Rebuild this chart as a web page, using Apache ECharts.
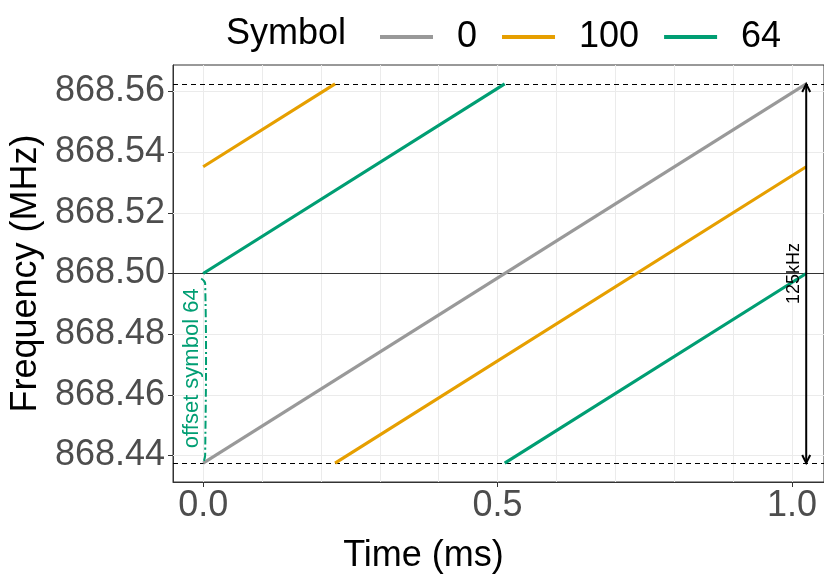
<!DOCTYPE html>
<html>
<head>
<meta charset="utf-8">
<script src="https://cdn.jsdelivr.net/npm/echarts@6/dist/echarts.min.js"></script>
<style>html,body{margin:0;padding:0;background:#fff;}#chart{width:824px;height:574px;}</style>
</head>
<body>
<div id="chart"></div>
<script>
// ---- data ----
const symbols = ['0', '100', '64'];
const time0 = [0, 1.024];
const freq0 = [868.4375, 868.5625];
const time100 = [0, 0.224, null, 0.224, 1.024];
const freq100 = [868.5352, 868.5625, null, 868.4375, 868.5352];
const time64 = [0, 0.512, null, 0.512, 1.024];
const freq64 = [868.5, 868.5625, null, 868.4375, 868.5];
const yTickLabels = [868.44, 868.46, 868.48, 868.50, 868.52, 868.54, 868.56];
const xTickLabels = [0, 0.5, 1.0];
const xGridValues = [0, 0.1, 0.2, 0.3, 0.4, 0.5, 0.6, 0.7, 0.8, 0.9, 1.0];
const bandEdges = [868.4375, 868.5625];
const centerFreq = 868.5;
const bwArrowTime = 1.024;
const bwLabel = '125kHz';
const offsetTime = 0;
const offsetRange = [868.4375, 868.5];
const offsetLabel = 'offset symbol 64';

// ---- styles ----
const COL = {'0': '#999999', '100': '#E69F00', '64': '#009E73'};
const FONT = '"Liberation Sans", Arial, Helvetica, sans-serif';

function pairs(t, f) {
  return t.map((v, i) => v === null ? ['-', '-'] : [v, f[i]]);
}
const seriesData = {'0': pairs(time0, freq0), '100': pairs(time100, freq100), '64': pairs(time64, freq64)};

const chart = echarts.init(document.getElementById('chart'), null, {renderer: 'canvas'});

const lineSeries = symbols.map(s => ({
  name: s, type: 'line', data: seriesData[s], showSymbol: false, symbol: 'none',
  connectNulls: false, z: 5,
  lineStyle: {color: COL[s], width: 3.2}, itemStyle: {color: COL[s]},
  emphasis: {disabled: true}, animation: false
}));

const gridSeries = {
  name: 'grid', type: 'line', data: [], z: 1, silent: true, animation: false,
  markLine: {
    silent: true, symbol: 'none', animation: false, label: {show: false}, precision: 6,
    lineStyle: {color: '#EBEBEB', width: 1, type: 'solid'},
    emphasis: {disabled: true},
    data: xGridValues.map(v => ({xAxis: v})).concat(yTickLabels.map(v => ({yAxis: v})))
  }
};

const refSeries = {
  name: 'ref', type: 'line', data: [], z: 3, silent: true, animation: false,
  markLine: {
    silent: true, symbol: 'none', animation: false, label: {show: false}, precision: 6,
    emphasis: {disabled: true},
    data: [
      {yAxis: bandEdges[0], lineStyle: {color: '#000', width: 1.2, type: [5, 4]}},
      {yAxis: bandEdges[1], lineStyle: {color: '#000', width: 1.2, type: [5, 4]}},
      {yAxis: centerFreq, lineStyle: {color: '#333', width: 1.2, type: 'solid'}}
    ]
  }
};

const annoSeries = {
  name: 'anno', type: 'custom', data: [[0]], z: 6, silent: true, animation: false,
  renderItem: function (params, api) {
    const a0 = api.coord([bwArrowTime, bandEdges[0]]);
    const a1 = api.coord([bwArrowTime, bandEdges[1]]);
    const b0 = api.coord([offsetTime, offsetRange[0]]);
    const b1 = api.coord([offsetTime, offsetRange[1]]);
    const blk = {stroke: '#000', lineWidth: 2, fill: null};
    const grn = '#009E73';
    const bx = b0[0] + 1;
    const aMid = api.coord([bwArrowTime, centerFreq]);
    const oMid = api.coord([offsetTime, (offsetRange[0] + offsetRange[1]) / 2]);
    return {
      type: 'group',
      children: [
        {type: 'line', shape: {x1: a0[0], y1: a0[1], x2: a1[0], y2: a1[1]}, style: blk},
        {type: 'polyline', shape: {points: [[a1[0] - 4, a1[1] + 8], [a1[0], a1[1]], [a1[0] + 4, a1[1] + 8]]}, style: blk},
        {type: 'polyline', shape: {points: [[a0[0] - 4, a0[1] - 8], [a0[0], a0[1]], [a0[0] + 4, a0[1] - 8]]}, style: blk},
        {type: 'polyline', shape: {smooth: 0.4, points: [[bx - 3, b1[1] + 5], [bx + 1, b1[1] + 10], [bx + 1, b0[1] - 8], [bx - 1, b0[1]]]},
          style: {stroke: grn, lineWidth: 2, fill: null, lineDash: [8, 3, 2, 3]}},
        {type: 'text', x: aMid[0] - 12, y: aMid[1], rotation: Math.PI / 2,
          style: {text: bwLabel, fill: '#000', font: '18px ' + FONT, align: 'center', verticalAlign: 'middle'}},
        {type: 'text', x: oMid[0] - 11, y: oMid[1], rotation: Math.PI / 2,
          style: {text: offsetLabel, fill: grn, font: '22px ' + FONT, align: 'center', verticalAlign: 'middle'}}
      ]
    };
  }
};

const option = {
  backgroundColor: '#fff',
  animation: false,
  textStyle: {fontFamily: FONT},
  grid: {left: 173, top: 65, right: 0, bottom: 92, show: true, borderColor: '#333', borderWidth: 1,
         backgroundColor: 'transparent', containLabel: false, outerBoundsMode: 'none'},
  legend: {
    data: symbols, left: 375, top: 14, orient: 'horizontal',
    icon: 'rect', itemWidth: 53, itemHeight: 4, itemGap: 25,
    textStyle: {fontSize: 36, color: '#000', fontFamily: FONT, padding: [0, 0, 0, 19]},
    selectedMode: false
  },
  graphic: [
    {type: 'text', left: 226, top: 16, style: {text: 'Symbol', font: '36px ' + FONT, fill: '#000'}}
  ],
  xAxis: {
    type: 'value', min: -0.0512, max: 1.0542,
    name: 'Time (ms)', nameLocation: 'middle', nameGap: 56,
    nameTextStyle: {fontSize: 36, color: '#000', fontFamily: FONT, padding: [0, 150, 0, 0]},
    splitLine: {show: false},
    axisLine: {show: true, onZero: false, lineStyle: {color: '#333', width: 1}},
    axisTick: {show: true, customValues: xTickLabels, length: 5, lineStyle: {color: '#333'}},
    axisLabel: {customValues: xTickLabels, formatter: v => v.toFixed(1), fontSize: 36, color: '#4D4D4D', margin: 6, fontFamily: FONT}
  },
  yAxis: {
    type: 'value', min: 868.43125, max: 868.56875,
    name: 'Frequency (MHz)', nameLocation: 'middle', nameGap: 128,
    nameTextStyle: {fontSize: 36, color: '#000', fontFamily: FONT},
    splitLine: {show: false},
    axisLine: {show: true, onZero: false, lineStyle: {color: '#333', width: 1}},
    axisTick: {show: true, customValues: yTickLabels, length: 5, lineStyle: {color: '#333'}},
    axisLabel: {customValues: yTickLabels, formatter: v => v.toFixed(2), fontSize: 36, color: '#4D4D4D', margin: 8, fontFamily: FONT}
  },
  series: [gridSeries, refSeries].concat(lineSeries).concat([annoSeries])
};
chart.setOption(option);
</script>
</body>
</html>
